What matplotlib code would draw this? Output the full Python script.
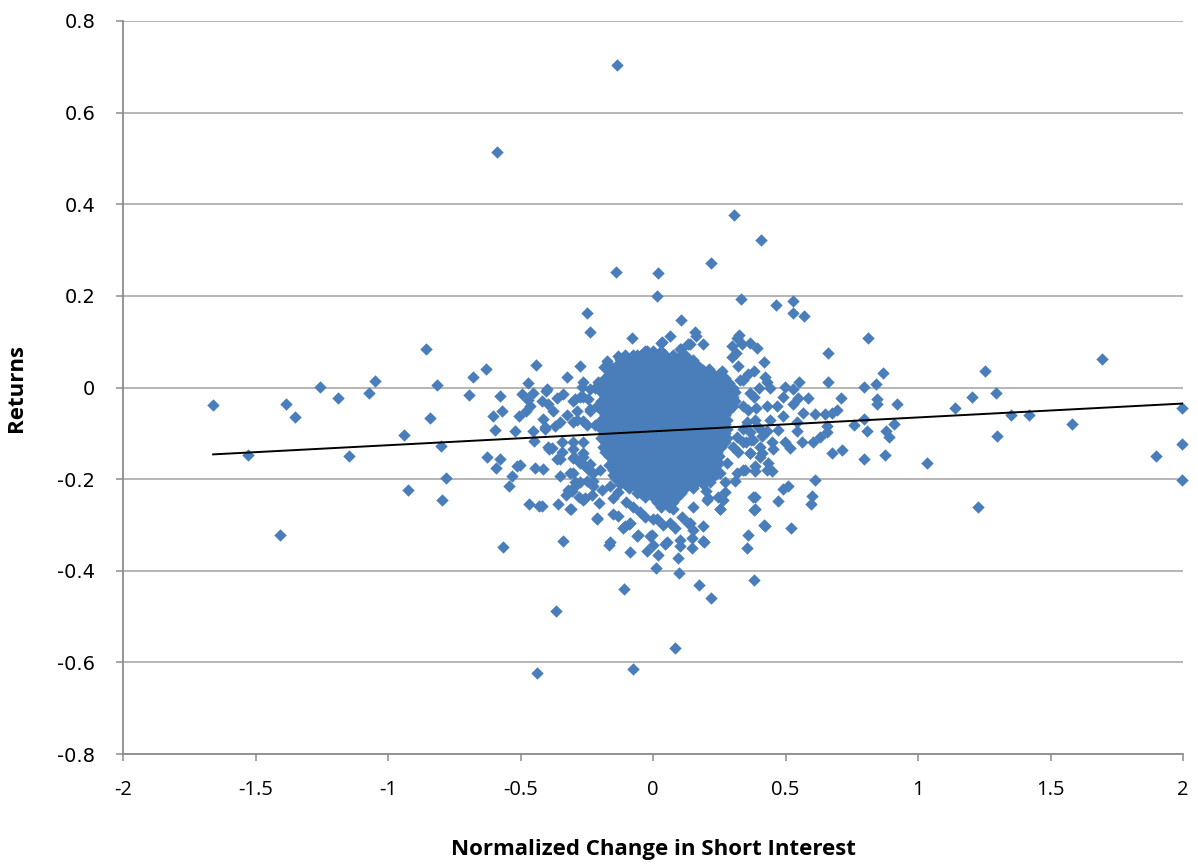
import matplotlib
matplotlib.use("Agg")
import matplotlib.pyplot as plt

# ---------------- data ----------------
x_ticks = [-2, -1.5, -1, -0.5, 0, 0.5, 1, 1.5, 2]
x_tick_labels = ["-2", "-1.5", "-1", "-0.5", "0", "0.5", "1", "1.5", "2"]
y_ticks = [-0.8, -0.6, -0.4, -0.2, 0, 0.2, 0.4, 0.6, 0.8]
y_tick_labels = ["-0.8", "-0.6", "-0.4", "-0.2", "0", "0.2", "0.4", "0.6", "0.8"]

# linear trend line endpoints
trend_x = [-1.66, 2.0]
trend_y = [-0.146, -0.035]

# isolated points far from the cluster
far_points = [
    (-0.136, 0.703), (-0.59, 0.513), (0.306, 0.376), (0.408, 0.323), (0.22, 0.271),
    (-0.14, 0.253), (0.02, 0.249), (0.015, 0.2), (0.332, 0.194), (0.464, 0.179),
    (0.528, 0.188), (0.528, 0.162), (0.57, 0.155), (-0.249, 0.162), (-0.238, 0.122),
    (-1.66, -0.039), (-1.528, -0.148), (-1.385, -0.037), (-1.351, -0.064), (-1.257, 0.002),
    (-1.189, -0.024), (-1.147, -0.150), (-1.072, -0.011), (-1.049, 0.015), (-1.408, -0.323),
    (-0.94, -0.103), (-0.925, -0.223), (-0.857, 0.084), (-0.815, 0.005), (-0.842, -0.067),
    (-0.80, -0.127), (-0.781, -0.197), (-0.796, -0.246),
    (-0.566, -0.349), (-0.366, -0.487), (-0.438, -0.624), (-0.075, -0.614), (0.083, -0.568),
    (-0.109, -0.439), (0.22, -0.459), (0.174, -0.432), (0.381, -0.421),
    (0.811, 0.109), (0.66, 0.076), (0.868, 0.031), (0.66, 0.011), (0.796, 0.002),
    (0.842, 0.007), (0.845, -0.026), (0.845, -0.037), (0.921, -0.035), (0.709, -0.024),
    (1.14, -0.044), (0.796, -0.068), (0.758, -0.081), (0.909, -0.079), (0.808, -0.096),
    (0.879, -0.096), (0.891, -0.107), (0.675, -0.142), (0.713, -0.137), (0.796, -0.155),
    (0.875, -0.148), (1.034, -0.164), (0.611, -0.201), (0.509, -0.214), (0.49, -0.221),
    (0.472, -0.247), (0.6, -0.236), (0.596, -0.255), (0.423, -0.303), (0.521, -0.306),
    (1.253, 0.037), (1.694, 0.063), (1.204, -0.02), (1.294, -0.013), (1.351, -0.061),
    (1.419, -0.059), (1.581, -0.079), (1.298, -0.105), (1.996, -0.044), (1.996, -0.124),
    (1.898, -0.15), (1.996, -0.201), (1.226, -0.26),
]

# scattered points around the left of the cluster
halo_left = [
    (-0.679, 0.022), (-0.63, 0.041), (-0.694, -0.017), (-0.442, 0.05), (-0.472, 0.009),
    (-0.577, -0.019), (-0.494, -0.015), (-0.453, -0.013), (-0.404, -0.007), (-0.472, -0.028),
    (-0.419, -0.03), (-0.464, -0.041), (-0.57, -0.052), (-0.604, -0.063), (-0.506, -0.063),
    (-0.479, -0.052), (-0.415, -0.068), (-0.596, -0.092), (-0.521, -0.094), (-0.453, -0.094),
    (-0.408, -0.09), (-0.449, -0.116), (-0.396, -0.129), (-0.626, -0.151), (-0.577, -0.155),
    (-0.592, -0.175), (-0.513, -0.172), (-0.502, -0.170), (-0.532, -0.194), (-0.543, -0.216),
    (-0.445, -0.175), (-0.415, -0.177), (-0.468, -0.255), (-0.43, -0.258),
    (-0.34, -0.336), (-0.166, -0.343), (-0.211, -0.286), (-0.087, -0.36), (-0.057, -0.323),
    (-0.113, -0.306), (-0.09, -0.297), (-0.132, -0.28), (-0.004, -0.323), (-0.023, -0.356),
    (0.0, -0.343), (0.011, -0.393), (-0.309, -0.266), (-0.358, -0.255), (-0.328, -0.234),
    (-0.419, -0.258), (-0.351, -0.194), (-0.306, -0.225), (-0.279, -0.238), (-0.257, -0.242),
    (-0.204, -0.253), (-0.23, -0.234), (-0.151, -0.242), (-0.362, -0.157), (-0.392, -0.135),
    (-0.343, -0.14), (-0.298, -0.151), (-0.257, -0.172), (-0.313, -0.186), (-0.294, -0.207),
    (-0.23, -0.186), (-0.226, -0.216), (-0.408, -0.087), (-0.37, -0.085), (-0.343, -0.12),
    (-0.302, -0.12), (-0.264, -0.151), (-0.238, -0.168),
    (-0.275, 0.048), (-0.325, 0.024), (-0.40, -0.004), (-0.174, 0.057), (-0.185, 0.044),
    (-0.132, 0.068), (-0.117, 0.059), (-0.151, 0.039), (-0.125, 0.037), (-0.087, 0.048),
    (-0.06, 0.07), (-0.023, 0.079), (-0.268, 0.002), (-0.219, 0.0), (-0.275, -0.02),
    (-0.362, -0.022), (-0.34, -0.015), (-0.396, -0.037), (-0.302, -0.03), (-0.245, -0.026),
    (-0.377, -0.052), (-0.325, -0.059), (-0.287, -0.052), (-0.238, -0.052), (-0.211, -0.041),
    (-0.351, -0.076), (-0.264, -0.074), (-0.219, -0.081), (-0.302, -0.076), (-0.249, -0.081),
    (-0.381, -0.131), (-0.351, -0.157), (-0.302, -0.153), (-0.264, -0.142), (-0.302, -0.186),
    (-0.249, -0.175), (-0.2, -0.179), (-0.275, -0.207), (-0.226, -0.205), (-0.321, -0.223),
    (-0.192, -0.223), (-0.162, -0.216), (-0.132, -0.229), (-0.102, -0.249), (-0.075, -0.26),
    (-0.049, -0.271), (-0.03, -0.282), (0.0, -0.288),
    (-0.181, 0.044), (-0.151, 0.035), (-0.125, 0.063), (-0.087, 0.055), (-0.08, 0.107),
    (-0.211, -0.284), (-0.151, -0.277), (-0.106, -0.303), (-0.087, -0.295), (-0.264, -0.245),
    (-0.294, -0.216), (-0.249, -0.205), (-0.226, -0.186), (-0.313, -0.266), (-0.275, -0.164),
    (-0.302, -0.135), (-0.264, -0.120), (-0.287, -0.070), (-0.238, -0.048), (-0.264, -0.020),
    (-0.294, -0.026), (-0.238, -0.004), (-0.264, 0.011), (-0.208, 0.013),
    (-0.011, -0.325), (-0.060, -0.325), (-0.162, -0.338),
]

# scattered points around the right of the cluster
halo_right = [
    (0.106, 0.148), (0.158, 0.122), (0.162, 0.113), (0.064, 0.113), (0.325, 0.115),
    (0.034, 0.1), (0.366, 0.098), (0.392, 0.087), (0.298, 0.09), (0.336, 0.094),
    (0.298, 0.066), (0.313, 0.076), (0.321, 0.048), (0.419, 0.055), (0.381, 0.035),
    (0.26, 0.037), (0.328, 0.017), (0.189, 0.094), (0.14, 0.094), (0.106, 0.083),
    (0.125, 0.068), (0.147, 0.044), (0.189, 0.039), (0.132, 0.096), (0.030, 0.098),
    (0.102, 0.083), (0.317, 0.109),
    (0.423, 0.024), (0.43, 0.013), (0.442, 0.0), (0.498, 0.002), (0.528, -0.004),
    (0.551, 0.011), (0.49, -0.02), (0.547, -0.022), (0.585, -0.024), (0.43, -0.041),
    (0.468, -0.041), (0.528, -0.037), (0.566, -0.055), (0.49, -0.063), (0.442, -0.07),
    (0.543, -0.076), (0.472, -0.092), (0.43, -0.096), (0.543, -0.096), (0.498, -0.118),
    (0.562, -0.12), (0.449, -0.12), (0.517, -0.131), (0.453, -0.135), (0.434, -0.164),
    (0.449, -0.183), (0.411, -0.142), (0.611, -0.057), (0.649, -0.057), (0.675, -0.055),
    (0.694, -0.05), (0.657, -0.085), (0.657, -0.098), (0.63, -0.107), (0.604, -0.118),
    (0.340, 0.017), (0.366, -0.011), (0.340, -0.041), (0.385, -0.070), (0.355, -0.076),
    (0.317, -0.107), (0.366, -0.142), (0.340, -0.179), (0.385, -0.183), (0.302, -0.129),
    (0.279, -0.164), (0.253, -0.186), (0.215, -0.207), (0.272, -0.207), (0.204, -0.245),
    (0.253, -0.266), (0.385, -0.266), (0.377, -0.238),
    (0.36, 0.03), (0.40, 0.0), (0.38, -0.02), (0.36, -0.05), (0.39, -0.045), (0.34, -0.09),
    (0.37, -0.115), (0.41, -0.105), (0.35, -0.12),
    (0.385, -0.24), (0.381, -0.268), (0.419, -0.301), (0.358, -0.323), (0.355, -0.351),
    (0.098, -0.404), (0.094, -0.373), (0.147, -0.351), (0.192, -0.338), (0.102, -0.345),
    (0.045, -0.341), (0.189, -0.303), (0.151, -0.31), (0.147, -0.328), (0.132, -0.295),
    (0.083, -0.306), (0.038, -0.301), (0.109, -0.282), (0.253, -0.266), (0.208, -0.242),
    (0.245, -0.238), (0.272, -0.229), (0.2, -0.225), (0.264, -0.245), (0.309, -0.205),
    (0.234, -0.19), (0.347, -0.179), (0.317, -0.186), (0.385, -0.172), (0.366, -0.142),
    (0.321, -0.14), (0.404, -0.151), (0.404, -0.129), (0.377, -0.114), (0.34, -0.12),
    (0.366, -0.098), (0.411, -0.096), (0.392, -0.085), (0.43, -0.179), (0.019, -0.365),
    (0.189, -0.336), (0.102, -0.332), (0.053, -0.338), (0.015, -0.288), (0.064, -0.295),
    (0.140, -0.295), (0.075, -0.266), (0.151, -0.260),
]

# dense core of the cluster: one y value per row and the x positions of that row
core_y = [0.08, 0.07, 0.06, 0.05, 0.04, 0.03, 0.02, 0.01, 0.0, -0.01, -0.02, -0.03,
          -0.04, -0.05, -0.06, -0.07, -0.08, -0.09, -0.10, -0.11, -0.12, -0.13, -0.14,
          -0.15, -0.16, -0.17, -0.18, -0.19, -0.20, -0.21, -0.22, -0.23, -0.24, -0.25, -0.26]
core_x = [
    [-0.03, 0.0, 0.03],
    [-0.105, -0.075, -0.045, -0.015, 0.015, 0.045, 0.075, 0.105],
    [-0.12, -0.09, -0.06, -0.03, 0.0, 0.03, 0.06, 0.09, 0.12, 0.15],
    [-0.165, -0.135, -0.105, -0.075, -0.045, -0.015, 0.015, 0.045, 0.075, 0.105, 0.135, 0.165],
    [-0.15, -0.12, -0.09, -0.06, -0.03, 0.0, 0.03, 0.06, 0.09, 0.12, 0.15, 0.18, 0.21],
    [-0.165, -0.135, -0.105, -0.075, -0.045, -0.015, 0.015, 0.045, 0.075, 0.105, 0.135, 0.165, 0.195, 0.225, 0.25],
    [-0.18, -0.15, -0.12, -0.09, -0.06, -0.03, 0.0, 0.03, 0.06, 0.09, 0.12, 0.15, 0.18, 0.21, 0.24, 0.27],
    [-0.195, -0.165, -0.135, -0.105, -0.075, -0.045, -0.015, 0.015, 0.045, 0.075, 0.105, 0.135, 0.165, 0.195, 0.225, 0.255, 0.285],
    [-0.18, -0.15, -0.12, -0.09, -0.06, -0.03, 0.0, 0.03, 0.06, 0.09, 0.12, 0.15, 0.18, 0.21, 0.24, 0.27, 0.30],
    [-0.195, -0.165, -0.135, -0.105, -0.075, -0.045, -0.015, 0.015, 0.045, 0.075, 0.105, 0.135, 0.165, 0.195, 0.225, 0.255, 0.285, 0.31],
    [-0.18, -0.15, -0.12, -0.09, -0.06, -0.03, 0.0, 0.03, 0.06, 0.09, 0.12, 0.15, 0.18, 0.21, 0.24, 0.27, 0.30],
    [-0.195, -0.165, -0.135, -0.105, -0.075, -0.045, -0.015, 0.015, 0.045, 0.075, 0.105, 0.135, 0.165, 0.195, 0.225, 0.255, 0.285, 0.31],
    [-0.18, -0.15, -0.12, -0.09, -0.06, -0.03, 0.0, 0.03, 0.06, 0.09, 0.12, 0.15, 0.18, 0.21, 0.24, 0.27, 0.30],
    [-0.195, -0.165, -0.135, -0.105, -0.075, -0.045, -0.015, 0.015, 0.045, 0.075, 0.105, 0.135, 0.165, 0.195, 0.225, 0.255, 0.285],
    [-0.18, -0.15, -0.12, -0.09, -0.06, -0.03, 0.0, 0.03, 0.06, 0.09, 0.12, 0.15, 0.18, 0.21, 0.24, 0.27],
    [-0.195, -0.165, -0.135, -0.105, -0.075, -0.045, -0.015, 0.015, 0.045, 0.075, 0.105, 0.135, 0.165, 0.195, 0.225, 0.255, 0.28],
    [-0.18, -0.15, -0.12, -0.09, -0.06, -0.03, 0.0, 0.03, 0.06, 0.09, 0.12, 0.15, 0.18, 0.21, 0.24, 0.27],
    [-0.195, -0.165, -0.135, -0.105, -0.075, -0.045, -0.015, 0.015, 0.045, 0.075, 0.105, 0.135, 0.165, 0.195, 0.225, 0.255, 0.28],
    [-0.18, -0.15, -0.12, -0.09, -0.06, -0.03, 0.0, 0.03, 0.06, 0.09, 0.12, 0.15, 0.18, 0.21, 0.24, 0.27],
    [-0.195, -0.165, -0.135, -0.105, -0.075, -0.045, -0.015, 0.015, 0.045, 0.075, 0.105, 0.135, 0.165, 0.195, 0.225, 0.255, 0.28],
    [-0.18, -0.15, -0.12, -0.09, -0.06, -0.03, 0.0, 0.03, 0.06, 0.09, 0.12, 0.15, 0.18, 0.21, 0.24, 0.27],
    [-0.19, -0.165, -0.135, -0.105, -0.075, -0.045, -0.015, 0.015, 0.045, 0.075, 0.105, 0.135, 0.165, 0.195, 0.225, 0.255],
    [-0.18, -0.15, -0.12, -0.09, -0.06, -0.03, 0.0, 0.03, 0.06, 0.09, 0.12, 0.15, 0.18, 0.21, 0.24],
    [-0.165, -0.135, -0.105, -0.075, -0.045, -0.015, 0.015, 0.045, 0.075, 0.105, 0.135, 0.165, 0.195, 0.225, 0.25],
    [-0.15, -0.12, -0.09, -0.06, -0.03, 0.0, 0.03, 0.06, 0.09, 0.12, 0.15, 0.18, 0.21, 0.24],
    [-0.165, -0.135, -0.105, -0.075, -0.045, -0.015, 0.015, 0.045, 0.075, 0.105, 0.135, 0.165, 0.195, 0.225, 0.24],
    [-0.15, -0.12, -0.09, -0.06, -0.03, 0.0, 0.03, 0.06, 0.09, 0.12, 0.15, 0.18, 0.21, 0.23],
    [-0.15, -0.135, -0.105, -0.075, -0.045, -0.015, 0.015, 0.045, 0.075, 0.105, 0.135, 0.165, 0.195, 0.22],
    [-0.14, -0.12, -0.09, -0.06, -0.03, 0.0, 0.03, 0.06, 0.09, 0.12, 0.15, 0.18, 0.21],
    [-0.125, -0.105, -0.075, -0.045, -0.015, 0.015, 0.045, 0.075, 0.105, 0.135, 0.16, 0.19],
    [-0.09, -0.06, -0.03, 0.0, 0.03, 0.06, 0.09, 0.12, 0.15],
    [-0.06, -0.045, -0.015, 0.015, 0.045, 0.075, 0.105],
    [-0.03, 0.0, 0.03, 0.06, 0.09],
    [0.015, 0.045, 0.075],
    [0.03, 0.06],
]

# ---------------- assemble ----------------
xs, ys = [], []
for group in (far_points, halo_left, halo_right):
    for px, py in group:
        xs.append(px)
        ys.append(py)
for yv, row in zip(core_y, core_x):
    for xv in row:
        xs.append(xv)
        ys.append(yv)

BLUE = "#4A7EBB"
GRID = "#B0B0B0"
AXIS = "#8C8C8C"

fig = plt.figure(figsize=(11.98, 8.67), dpi=100)
ax = fig.add_axes([123 / 1198, 1 - 754 / 867, (1183 - 123) / 1198, (754 - 21) / 867])

ax.set_xlim(-2, 2)
ax.set_ylim(-0.8, 0.8)

ax.yaxis.grid(True, color=GRID, linewidth=1.3)
ax.set_axisbelow(True)

ax.scatter(xs, ys, marker="D", s=40, color=BLUE, linewidths=0, zorder=3, clip_on=False)
ax.plot(trend_x, trend_y, color="black", linewidth=1.4, zorder=4)

for s in ("top", "right"):
    ax.spines[s].set_visible(False)
for s in ("left", "bottom"):
    ax.spines[s].set_color(AXIS)
    ax.spines[s].set_linewidth(1.3)

ax.set_xticks(x_ticks)
ax.set_xticklabels(x_tick_labels, fontfamily="Open Sans", fontsize=14.5)
ax.set_yticks(y_ticks)
ax.set_yticklabels(y_tick_labels, fontfamily="DejaVu Sans", fontsize=14)
ax.tick_params(axis="both", direction="out", length=5, width=1.1, color=AXIS)
ax.tick_params(axis="y", pad=15)
ax.tick_params(axis="x", pad=14)

ax.set_xlabel("Normalized Change in Short Interest", fontfamily="Open Sans",
              fontweight="bold", fontsize=16, labelpad=28)
ax.set_ylabel("Returns", fontfamily="Open Sans", fontweight="bold", fontsize=16, labelpad=22)

fig.savefig("out.png", dpi=100)
